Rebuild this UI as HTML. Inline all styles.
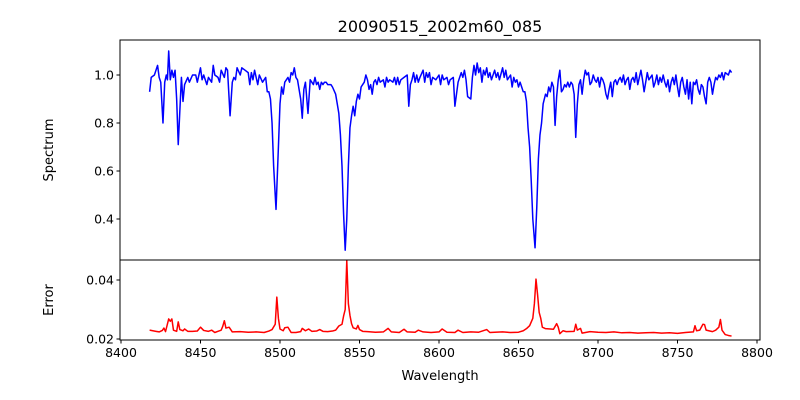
<!DOCTYPE html>
<html><head><meta charset="utf-8"><style>
body{margin:0;background:#fff;}
svg{display:block;font-family:"DejaVu Sans","Liberation Sans",sans-serif;}
</style></head><body>
<svg id="c" width="800" height="400"></svg>
<script>
const specWl=[8418,8419,8421,8422,8423,8424,8425,8426.4,8427.5,8428.5,8429.2,8430,8431,8432,8433,8434,8435,8436,8437,8438,8439,8440,8442,8443,8445,8447,8448,8450,8451,8452,8454,8455,8457,8458,8459,8461,8462,8463,8465,8466,8467,8468.6,8470,8471,8472,8473,8475,8476,8478,8480,8481,8482,8483,8484,8486,8487,8489,8491,8492,8493,8494,8495,8496,8497.5,8499,8500,8501,8502,8503,8505,8506,8507,8508,8509,8510,8511,8513,8514,8515,8516,8517.6,8519,8520,8521,8522,8523,8524,8525,8526,8527,8528,8529,8530,8532,8533,8535,8536,8537,8538,8539,8540,8541,8542,8543,8544,8545,8546,8547,8548,8549,8550,8551,8552,8553,8554,8555,8556,8557,8558,8559,8560,8561,8562,8563,8565,8566,8567,8568,8569,8571,8572,8573,8574,8575,8576,8578,8580,8581,8582,8583,8584,8585,8586,8587,8588,8590,8591,8592,8593,8594,8595,8596,8598,8600,8601,8602,8603,8605,8606,8607,8609,8610,8611,8612,8613,8614,8615,8616,8617,8618,8620,8621,8622,8623,8624,8625,8626,8627,8628,8629,8630,8631,8632,8633,8635,8636,8637,8638,8640,8641,8642,8643,8645,8646,8647,8648,8649,8650,8651,8652,8653,8654,8655,8656,8657,8658,8659,8660.4,8661.5,8662.5,8663.5,8664.5,8665.5,8667,8668,8669,8670,8671,8672,8673,8674,8675,8676,8677,8678,8679,8680,8681,8682,8683,8684,8685,8686,8687,8688,8689,8690,8691,8692,8693,8694,8695,8696,8697,8698,8699,8700,8701,8702,8703,8704,8705,8706,8707,8708,8709,8710,8711,8712,8713,8714,8715,8716,8717,8718,8719,8720,8721,8722,8723,8724,8725,8726,8727,8728,8729,8730,8731,8732,8734,8735,8736,8737,8738,8739,8740,8741,8742,8743,8744,8745,8746,8747,8748,8749,8750,8751,8752,8753,8754,8755,8756,8757,8758,8759,8760,8761,8762,8763,8764,8765,8766,8767,8768,8769,8770,8771,8772,8773,8774,8775,8776,8777,8778,8779,8780,8782,8783,8784];
const specFlux=[0.93,0.99,1.00,1.02,1.04,0.99,0.97,0.80,0.97,1.00,0.98,1.10,0.98,1.02,0.99,1.02,0.90,0.71,0.85,0.99,0.89,0.96,0.99,0.97,1.00,1.00,0.97,1.03,0.98,1.00,0.96,0.99,0.97,1.04,1.00,0.99,0.97,1.02,0.99,1.03,1.02,0.83,0.97,0.99,0.98,1.03,1.00,1.03,1.02,1.01,0.96,1.01,0.98,1.02,0.96,1.00,0.97,0.99,0.93,0.93,0.90,0.80,0.62,0.44,0.70,0.88,0.95,0.92,0.97,0.99,0.97,1.01,1.00,1.03,0.99,0.98,0.90,0.82,0.94,0.97,0.84,0.98,0.97,0.96,0.99,0.96,0.97,0.94,0.97,0.96,0.97,0.97,0.96,0.96,0.95,0.92,0.88,0.84,0.75,0.62,0.42,0.27,0.40,0.62,0.78,0.83,0.87,0.83,0.89,0.92,0.90,0.95,0.96,0.97,1.00,0.98,0.94,0.96,0.92,0.97,0.98,0.96,0.99,0.97,0.98,0.95,0.99,0.97,0.98,0.97,0.99,0.96,0.99,0.96,0.98,0.99,1.00,0.87,0.96,0.98,1.01,0.97,1.00,0.97,0.99,1.02,0.97,1.01,0.99,1.01,0.96,0.99,0.98,1.00,0.96,1.00,0.98,0.99,0.96,0.98,0.99,0.87,0.92,0.97,0.99,1.01,0.99,1.02,0.98,0.91,0.90,0.99,1.04,1.00,1.05,1.01,1.03,0.97,1.02,1.00,1.03,0.99,1.01,0.98,1.02,0.99,1.01,0.98,1.03,0.99,1.02,0.98,1.00,0.95,0.99,0.97,0.98,0.95,0.97,0.95,0.93,0.93,0.89,0.78,0.70,0.56,0.40,0.28,0.45,0.65,0.75,0.80,0.88,0.92,0.91,0.95,0.93,0.97,0.95,0.79,0.91,0.98,1.02,0.93,0.94,0.96,0.95,0.97,0.95,0.97,0.96,0.92,0.74,0.88,0.96,0.98,0.92,0.98,1.02,1.00,1.01,0.96,0.97,1.00,0.98,0.97,0.99,0.95,0.99,0.98,0.96,0.92,0.90,0.94,0.97,0.91,0.97,0.98,0.96,0.98,0.99,0.97,1.00,0.96,0.98,0.99,0.94,0.98,0.99,0.97,1.01,0.96,0.99,1.02,0.98,0.93,0.97,1.01,0.98,1.00,0.95,0.97,1.00,0.96,0.99,0.97,1.00,0.97,0.95,0.98,0.93,0.97,0.99,0.96,1.00,0.95,0.91,0.97,0.99,0.95,0.92,0.98,0.90,0.97,0.88,0.97,0.96,0.98,0.94,0.92,0.96,0.95,0.91,0.88,0.97,0.99,0.97,0.92,0.96,0.99,0.98,1.00,0.99,1.01,0.98,1.01,1.00,1.02,1.01];
const errWl=[8418,8420,8422,8424,8426,8427,8428,8430,8431,8432,8433,8435,8436,8437,8439,8440,8442,8445,8448,8450,8452,8455,8457,8459,8461,8463,8464,8465,8466,8468,8470,8475,8480,8485,8490,8493,8495,8497,8498,8499,8500,8502,8503,8505,8507,8510,8513,8514,8516,8518,8520,8523,8525,8527,8530,8533,8535,8537,8539,8540,8541,8542,8543,8544,8545,8546,8548,8549,8550,8552,8555,8560,8565,8568,8570,8575,8578,8580,8585,8587,8590,8595,8600,8602,8605,8610,8612,8615,8620,8625,8630,8632,8635,8640,8645,8650,8653,8655,8657,8659,8660,8661,8662,8663,8664,8665,8667,8670,8672,8674,8675,8676,8678,8680,8685,8686,8687,8689,8690,8695,8700,8705,8710,8715,8720,8725,8730,8735,8740,8745,8750,8755,8760,8761,8762,8764,8766,8767,8768,8772,8774,8776,8777,8778,8780,8782,8784];
const errVal=[0.0230,0.0228,0.0226,0.0224,0.0229,0.0237,0.0225,0.0268,0.0260,0.0268,0.0230,0.0226,0.0258,0.0232,0.0228,0.0234,0.0226,0.0226,0.0227,0.0240,0.0229,0.0226,0.0230,0.0222,0.0226,0.0230,0.0243,0.0262,0.0237,0.0240,0.0224,0.0225,0.0223,0.0224,0.0222,0.0227,0.0232,0.0250,0.0342,0.0270,0.0234,0.0228,0.0238,0.0240,0.0222,0.0222,0.0225,0.0236,0.0228,0.0234,0.0226,0.0227,0.0232,0.0226,0.0225,0.0227,0.0230,0.0244,0.0250,0.0278,0.0300,0.0465,0.0320,0.0280,0.0252,0.0238,0.0234,0.0246,0.0232,0.0226,0.0225,0.0223,0.0224,0.0236,0.0224,0.0222,0.0233,0.0224,0.0223,0.0230,0.0224,0.0222,0.0224,0.0234,0.0223,0.0222,0.0230,0.0222,0.0224,0.0223,0.0232,0.0222,0.0223,0.0224,0.0222,0.0223,0.0228,0.0235,0.0245,0.0270,0.0320,0.0403,0.0350,0.0290,0.0270,0.0240,0.0235,0.0234,0.0233,0.0252,0.0240,0.0218,0.0228,0.0225,0.0226,0.0250,0.0230,0.0236,0.0220,0.0225,0.0223,0.0222,0.0224,0.0221,0.0222,0.0220,0.0221,0.0222,0.0220,0.0221,0.0219,0.0222,0.0224,0.0245,0.0228,0.0230,0.0250,0.0249,0.0230,0.0225,0.0230,0.0240,0.0266,0.0230,0.0215,0.0212,0.0210];
const xTicks=[8400,8450,8500,8550,8600,8650,8700,8750,8800];
const specTicks=[0.4,0.6,0.8,1.0];
const errTicks=[0.02,0.04];

const NS='http://www.w3.org/2000/svg';
const svg=document.getElementById('c');
const L=120,R=760,T1=40,B1=260,T2=260,B2=340;
const xs=v=>121+(v-8400)*(757-121)/400;
const ys1=v=>75+(1.0-v)*(219-75)/0.6;
const ys2=v=>339-(v-0.02)*(339-280)/0.02;
function mk(tag,attrs,parent){const e=document.createElementNS(NS,tag);for(const k in attrs)e.setAttribute(k,attrs[k]);(parent||svg).appendChild(e);return e;}

const clip=mk('defs',{});
const c1=mk('clipPath',{id:'cp1'},clip);mk('rect',{x:L,y:T1,width:R-L,height:B1-T1},c1);
const c2=mk('clipPath',{id:'cp2'},clip);mk('rect',{x:L,y:T2,width:R-L,height:B2-T2},c2);

let d='';specWl.forEach((w,i)=>{d+=(i?'L':'M')+xs(w).toFixed(2)+','+ys1(specFlux[i]).toFixed(2);});
const p1=mk('path',{d:d,fill:'none',stroke:'#0000ff','stroke-width':1.5,'stroke-linejoin':'round','clip-path':'url(#cp1)'});


d='';errWl.forEach((w,i)=>{d+=(i?'L':'M')+xs(w).toFixed(2)+','+ys2(errVal[i]).toFixed(2);});
const p2=mk('path',{d:d,fill:'none',stroke:'#ff0000','stroke-width':1.5,'stroke-linejoin':'round','clip-path':'url(#cp2)'});



const f1=mk('rect',{x:L,y:T1,width:R-L,height:B1-T1,fill:'none',stroke:'#000','stroke-width':1});


const f2=mk('rect',{x:L,y:T2,width:R-L,height:B2-T2,fill:'none',stroke:'#000','stroke-width':1});



xTicks.forEach(t=>{const x=xs(t);mk('line',{x1:x,x2:x,y1:B2,y2:B2+3.5,stroke:'#000'});
 const tx=mk('text',{x:x,y:B2+17,'font-size':12.5,'text-anchor':'middle'});tx.textContent=t;
 
 });
specTicks.forEach(t=>{const y=ys1(t);mk('line',{x1:L-3.5,x2:L,y1:y,y2:y,stroke:'#000'});
 const tx=mk('text',{x:L-6,y:y+4.5,'font-size':12.5,'text-anchor':'end'});tx.textContent=t.toFixed(1);
 
 });
errTicks.forEach(t=>{const y=ys2(t);mk('line',{x1:L-3.5,x2:L,y1:y,y2:y,stroke:'#000'});
 const tx=mk('text',{x:L-6,y:y+4.5,'font-size':12.5,'text-anchor':'end'});tx.textContent=t.toFixed(2);
 
 });

const ti=mk('text',{x:440,y:32,'font-size':16,'text-anchor':'middle'});ti.textContent='20090515_2002m60_085';


const xl=mk('text',{x:440,y:380,'font-size':13,'text-anchor':'middle'});xl.textContent='Wavelength';


const yl1=mk('text',{x:53,y:150,'font-size':13,'text-anchor':'middle',transform:'rotate(-90 53 150)'});yl1.textContent='Spectrum';


const yl2=mk('text',{x:53,y:300,'font-size':13,'text-anchor':'middle',transform:'rotate(-90 53 300)'});yl2.textContent='Error';


</script>
</body></html>
